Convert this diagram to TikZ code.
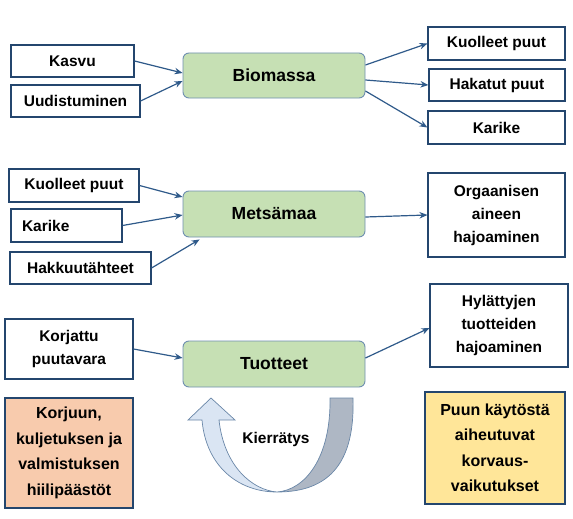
\documentclass[tikz,border=0pt]{standalone}
\usepackage{fontspec}
\setmainfont{Liberation Sans}
\usepackage{tikz}
\usetikzlibrary{arrows.meta}

\definecolor{boxline}{HTML}{24466E}
\definecolor{arrowblue}{HTML}{2F5A8A}
\definecolor{greenfill}{HTML}{C6E0B4}
\definecolor{greenline}{HTML}{6F8FB0}
\definecolor{orangefill}{HTML}{F8CBAD}
\definecolor{yellowfill}{HTML}{FFE699}
\definecolor{loopblue}{HTML}{DAE5F3}
\definecolor{loopgray}{HTML}{AEB7C4}
\definecolor{loopline}{HTML}{6A87A8}

\tikzset{
  box/.style={draw=boxline, line width=1.1pt, fill=white, align=center,
    inner sep=2pt, font=\fontsize{15.5}{23}\selectfont\bfseries},
  mainbox/.style={draw=greenline, line width=0.9pt, fill=greenfill,
    rounded corners=6pt, font=\fontsize{17.5}{21}\selectfont\bfseries},
  bigbox/.style={box, font=\fontsize{16}{25.5}\selectfont\bfseries},
  arr/.style={draw=arrowblue, line width=1.2pt, -{Stealth[length=8pt, width=6.5pt]}}
}

\begin{document}
\begin{tikzpicture}[x=1pt, y=-1pt]

\useasboundingbox (0, 0) rectangle (573, 519);

\node (biomassa) at (274, 75.5) [mainbox, minimum width=182, minimum height=45]{Biomassa};
\node (metsamaa) at (274, 214) [mainbox, minimum width=182, minimum height=46]{Metsämaa};
\node (tuotteet) at (274, 364) [mainbox, minimum width=182, minimum height=46]{Tuotteet};

\node (kasvu) at (72.5, 61) [box, minimum width=123, minimum height=32]{Kasvu};
\node (uudistuminen) at (75.5, 101) [box, minimum width=129, minimum height=32]{Uudistuminen};

\node (kuolleetA) at (496.5, 43.5) [box, minimum width=137, minimum height=33]{Kuolleet puut};
\node (hakatut) at (497, 85) [box, minimum width=136, minimum height=32]{Hakatut puut};
\node (karikeA) at (496.5, 127.5) [box, minimum width=137, minimum height=33]{Karike};

\node (kuolleetB) at (74, 185.5) [box, minimum width=130, minimum height=33]{Kuolleet puut};
\node (karikeB) at (66.5, 225.5) [box, text width=89, inner xsep=11, align=left, minimum height=33]{Karike};
\node (hakkuu) at (80.5, 268) [box, minimum width=141, minimum height=32]{Hakkuutähteet};
\node (hajoaminen) at (496.5, 215) [box, minimum width=137, minimum height=84]{Orgaanisen\\aineen\\hajoaminen};

\node (korjattu) at (69, 349) [box, minimum width=128, minimum height=60]{Korjattu\\puutavara};
\node (hylatyt) at (499, 325.5) [box, minimum width=138, minimum height=83]{Hylättyjen\\tuotteiden\\hajoaminen};

\node (paastot) at (69, 453) [bigbox, fill=orangefill, minimum width=128, minimum height=110]{Korjuun,\\kuljetuksen ja\\valmistuksen\\hiilipäästöt};
\node (korvaus) at (495, 448) [bigbox, fill=yellowfill, minimum width=140, minimum height=112]{Puun käytöstä\\aiheutuvat\\korvaus-\\vaikutukset};

\draw[arr] (kasvu.east)--([yshift=2.5pt]biomassa.west);
\draw[arr] (uudistuminen.east)--([yshift=-5.5pt]biomassa.west);
\draw[arr] ([yshift=10.5pt]biomassa.east)--(kuolleetA.west);
\draw[arr] ([yshift=-4.5pt]biomassa.east)--(hakatut.west);
\draw[arr] ([yshift=-15.5pt]biomassa.east)--(karikeA.west);

\draw[arr] (kuolleetB.east)--([yshift=17pt]metsamaa.west);
\draw[arr] (karikeB.east)--([yshift=-1pt]metsamaa.west);
\draw[arr] (hakkuu.east)--([xshift=17pt, yshift=-2pt]metsamaa.south west);
\draw[arr] ([yshift=-3pt]metsamaa.east)--(hajoaminen.west);

\draw[arr] (korjattu.east)--([yshift=6pt]tuotteet.west);
\draw[arr] ([yshift=6pt]tuotteet.east)--([yshift=-2.5pt]hylatyt.west);

% kierratys loop
\draw[draw=loopline, fill=loopgray, line width=0.7pt] (330, 398)
  .. controls (331, 458) and (305, 490) .. (277, 492)
  .. controls (330, 492) and (355, 462) .. (353, 398) -- cycle;
\draw[draw=loopline, fill=loopblue, line width=0.7pt] (211, 398) -- (235, 420) -- (219, 420)
  .. controls (224, 466) and (252, 490) .. (277, 492)
  .. controls (238, 492) and (206, 466) .. (202, 420) -- (188, 420) -- cycle;
\node (kierratys) at (276, 439) [font=\fontsize{15.5}{18}\selectfont\bfseries]{Kierrätys};

\end{tikzpicture}
\end{document}
